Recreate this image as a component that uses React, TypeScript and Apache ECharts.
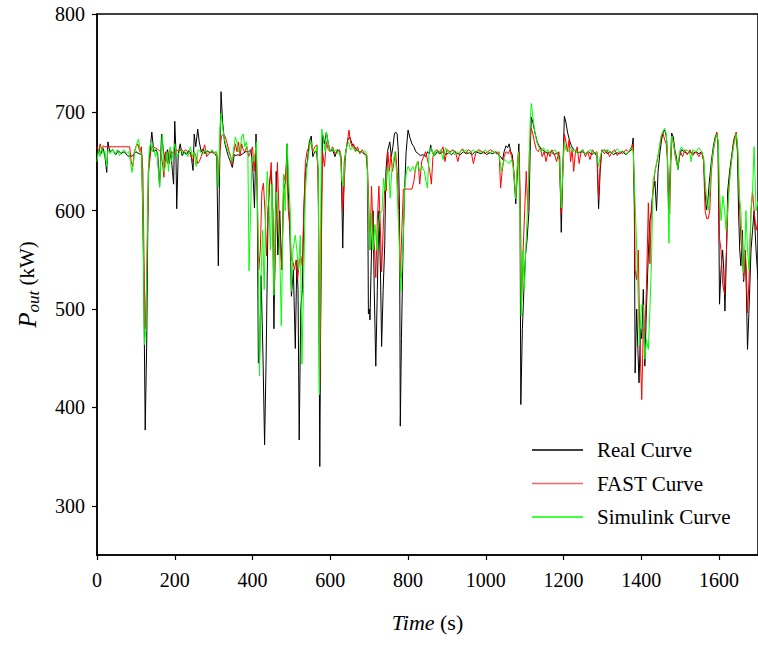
import React, { useEffect, useRef } from "react";
import * as echarts from "echarts";

// Real (measured) output power, [time s, kW]
const realCurve: [number, number][] = [
  [0,655],[5,662],[10,658],[15,664],[20,657],[25,639],[28,670],[33,660],[40,662],[48,657],[55,661],[62,658],[70,660],[78,656],[85,655],[92,656],[100,660],[108,658],[115,657],[120,540],[124,377],[128,470],[132,640],[138,668],[141,680],[146,660],[152,662],[156,658],[161,624],[166,678],[171,660],[176,650],[181,662],[186,648],[190,660],[194,640],[197,627],[200,691],[203,660],[205,602],[209,658],[214,668],[219,656],[224,660],[230,657],[236,661],[241,659],[244,650],[247,641],[250,678],[254,665],[259,683],[263,670],[268,660],[273,663],[278,658],[283,661],[290,659],[297,660],[303,658],[308,655],[312,544],[316,660],[319,721],[323,690],[328,670],[333,662],[338,655],[343,650],[348,644],[353,657],[358,656],[362,657],[368,656],[375,658],[382,660],[390,660],[396,662],[401,640],[405,603],[409,678],[412,620],[415,445],[418,447],[422,534],[427,450],[431,362],[435,450],[440,600],[444,630],[448,640],[452,600],[455,480],[458,560],[461,640],[465,555],[470,600],[475,540],[480,620],[485,630],[489,668],[492,620],[496,580],[500,513],[505,540],[510,460],[514,550],[517,520],[520,367],[524,500],[528,520],[532,600],[536,640],[541,650],[546,670],[551,676],[555,655],[560,660],[565,660],[569,640],[573,340],[577,600],[580,678],[585,668],[590,680],[595,668],[600,660],[606,662],[612,655],[618,662],[624,660],[628,650],[632,562],[636,650],[640,660],[645,672],[650,675],[656,668],[662,665],[668,662],[674,660],[680,660],[686,658],[692,657],[696,640],[698,495],[701,500],[702,489],[706,560],[710,600],[713,520],[717,442],[721,520],[725,600],[729,540],[732,462],[736,520],[740,565],[743,640],[747,660],[750,665],[753,670],[757,655],[761,665],[765,678],[768,680],[772,678],[775,660],[778,600],[780,381],[783,470],[787,560],[791,620],[795,660],[800,682],[805,674],[810,668],[815,665],[820,660],[826,658],[832,656],[838,657],[845,655],[850,660],[855,658],[858,667],[862,660],[868,656],[875,660],[882,658],[890,660],[898,657],[905,659],[912,657],[920,660],[928,658],[935,657],[942,660],[950,658],[958,659],[965,657],[972,660],[980,659],[988,658],[995,660],[1002,657],[1010,659],[1018,658],[1025,660],[1032,657],[1038,655],[1043,652],[1047,660],[1052,666],[1056,664],[1060,668],[1064,660],[1068,657],[1072,640],[1077,607],[1081,640],[1085,668],[1088,600],[1090,403],[1094,480],[1098,520],[1102,555],[1106,570],[1111,600],[1114,660],[1117,695],[1121,690],[1126,680],[1132,670],[1138,665],[1145,662],[1152,660],[1160,658],[1168,660],[1176,657],[1184,659],[1190,655],[1194,578],[1198,640],[1202,696],[1206,690],[1210,680],[1215,672],[1220,666],[1226,662],[1232,660],[1240,659],[1248,660],[1256,658],[1264,660],[1272,657],[1280,659],[1286,655],[1290,602],[1294,640],[1298,660],[1305,662],[1312,658],[1320,660],[1328,657],[1336,659],[1344,658],[1352,660],[1360,657],[1368,660],[1375,662],[1379,674],[1382,600],[1384,435],[1388,500],[1391,460],[1394,425],[1398,480],[1401,470],[1405,520],[1409,442],[1413,500],[1418,557],[1422,590],[1426,600],[1430,620],[1435,630],[1439,600],[1443,640],[1448,660],[1452,672],[1456,680],[1460,682],[1464,676],[1467,660],[1470,601],[1474,640],[1478,679],[1482,675],[1486,662],[1490,655],[1494,642],[1498,655],[1503,662],[1510,660],[1518,658],[1525,660],[1532,658],[1540,660],[1548,658],[1555,660],[1560,652],[1564,620],[1567,601],[1571,610],[1575,630],[1580,650],[1585,665],[1590,675],[1594,679],[1597,670],[1599,600],[1601,505],[1605,540],[1609,560],[1612,540],[1615,498],[1619,560],[1622,620],[1627,640],[1632,655],[1637,670],[1641,676],[1644,678],[1647,660],[1650,600],[1653,560],[1656,544],[1660,580],[1663,528],[1667,560],[1670,520],[1673,459],[1677,500],[1682,560],[1686,580],[1690,600],[1695,560],[1700,530]
];

// FAST simulated output power, [time s, kW]
const fastCurve: [number, number][] = [
  [0,665],[5,660],[8,668],[12,662],[16,666],[20,665],[30,665],[40,665],[50,665],[60,665],[70,665],[80,665],[84,665],[88,650],[92,645],[96,660],[100,665],[105,668],[110,660],[114,665],[118,640],[122,520],[125,480],[129,560],[133,640],[138,660],[142,665],[150,664],[158,662],[163,660],[168,650],[172,634],[176,660],[181,648],[186,662],[192,660],[198,658],[204,662],[210,660],[216,663],[222,660],[228,662],[234,660],[240,658],[246,650],[250,660],[255,655],[259,648],[263,650],[268,655],[272,660],[277,667],[282,655],[288,658],[294,660],[300,658],[306,660],[310,655],[313,634],[316,660],[320,676],[325,678],[330,675],[335,668],[340,660],[344,655],[348,647],[352,660],[356,668],[360,660],[364,670],[368,656],[372,668],[376,662],[380,660],[385,665],[390,655],[395,660],[400,665],[404,640],[408,660],[412,620],[416,540],[420,560],[424,619],[428,628],[432,600],[436,554],[440,600],[444,625],[448,649],[452,600],[456,520],[460,580],[464,649],[468,600],[472,560],[476,540],[480,637],[484,630],[488,650],[492,600],[496,584],[500,550],[504,548],[508,540],[512,550],[516,530],[520,548],[524,554],[528,544],[532,600],[536,649],[540,660],[545,665],[550,670],[555,660],[560,665],[566,667],[570,600],[573,424],[577,560],[580,660],[585,645],[590,670],[595,662],[600,660],[606,665],[612,658],[618,660],[624,662],[628,655],[632,600],[636,630],[640,660],[644,670],[648,682],[652,670],[656,665],[660,668],[665,660],[670,665],[676,658],[682,662],[688,658],[694,656],[698,619],[702,560],[706,625],[710,580],[714,560],[717,532],[721,590],[725,625],[729,580],[732,538],[736,580],[740,625],[744,620],[748,660],[752,640],[756,657],[760,640],[764,650],[768,660],[772,640],[776,600],[780,532],[784,580],[788,622],[792,622],[798,622],[804,622],[810,622],[815,630],[820,645],[826,650],[830,627],[835,650],[840,655],[845,660],[850,652],[856,640],[860,627],[864,655],[868,660],[875,662],[882,658],[890,665],[895,650],[900,662],[908,660],[915,662],[922,660],[928,650],[934,660],[940,663],[948,658],[955,662],[962,660],[968,648],[975,660],[982,662],[990,660],[998,658],[1005,660],[1012,662],[1020,660],[1028,658],[1034,660],[1038,623],[1042,640],[1047,655],[1052,660],[1058,658],[1062,662],[1066,655],[1070,650],[1074,625],[1078,615],[1082,650],[1086,660],[1089,600],[1092,508],[1096,560],[1100,600],[1104,640],[1108,600],[1112,660],[1116,684],[1120,680],[1125,670],[1130,662],[1135,660],[1140,665],[1145,655],[1150,660],[1155,650],[1160,660],[1165,655],[1170,662],[1176,658],[1182,650],[1188,660],[1194,597],[1198,640],[1202,678],[1206,670],[1210,660],[1214,672],[1218,650],[1222,662],[1226,640],[1230,658],[1235,665],[1240,648],[1245,660],[1250,662],[1256,655],[1262,660],[1268,652],[1274,662],[1280,658],[1286,660],[1290,612],[1294,645],[1298,662],[1305,658],[1312,662],[1318,655],[1325,660],[1332,662],[1338,656],[1345,660],[1352,658],[1360,662],[1368,660],[1375,665],[1379,668],[1382,620],[1384,539],[1388,530],[1392,560],[1396,470],[1401,408],[1405,480],[1409,476],[1413,520],[1418,608],[1422,546],[1426,605],[1430,620],[1435,640],[1440,650],[1445,660],[1450,672],[1455,680],[1460,672],[1464,668],[1467,650],[1470,610],[1473,597],[1476,650],[1479,675],[1482,670],[1486,658],[1490,650],[1494,645],[1500,660],[1506,655],[1512,662],[1518,657],[1525,662],[1532,656],[1540,660],[1548,655],[1555,660],[1560,650],[1564,600],[1568,592],[1572,592],[1576,600],[1580,640],[1585,660],[1590,672],[1594,680],[1598,665],[1601,572],[1605,560],[1609,526],[1614,515],[1619,560],[1623,610],[1628,640],[1633,655],[1638,672],[1644,680],[1648,660],[1652,610],[1656,570],[1660,555],[1663,530],[1667,560],[1670,540],[1673,496],[1677,530],[1682,600],[1686,620],[1690,600],[1695,580],[1700,590]
];

// Simulink simulated output power, [time s, kW]
const simulinkCurve: [number, number][] = [
  [0,650],[4,662],[8,655],[12,665],[16,658],[20,660],[25,645],[28,662],[34,658],[40,663],[46,657],[52,662],[58,656],[64,660],[70,662],[76,658],[82,660],[86,650],[90,639],[94,650],[98,662],[102,668],[107,673],[111,660],[115,655],[118,600],[122,464],[126,480],[130,600],[134,660],[138,670],[142,660],[146,665],[150,655],[154,660],[158,640],[161,624],[165,660],[168,678],[172,640],[176,645],[180,660],[184,640],[188,665],[192,650],[196,660],[200,668],[205,655],[210,658],[216,662],[222,657],[228,660],[234,655],[240,665],[246,655],[250,660],[255,645],[260,662],[266,660],[272,657],[278,662],[284,658],[290,660],[296,662],[302,658],[308,660],[312,624],[316,680],[319,699],[323,685],[328,672],[333,665],[338,660],[343,655],[348,650],[352,665],[356,675],[360,670],[364,660],[368,662],[372,675],[376,678],[380,665],[384,670],[388,660],[391,539],[395,600],[399,655],[403,650],[407,660],[410,670],[414,580],[418,432],[422,534],[426,580],[430,520],[434,600],[438,640],[442,611],[446,560],[450,627],[455,514],[458,580],[461,619],[465,600],[470,560],[474,483],[480,637],[484,600],[489,668],[493,630],[497,600],[500,518],[504,560],[510,575],[514,560],[518,540],[523,575],[527,444],[531,520],[536,620],[540,644],[545,660],[549,672],[553,666],[557,661],[562,660],[566,666],[569,640],[572,413],[576,620],[578,683],[583,670],[587,660],[590,680],[595,668],[600,660],[605,664],[610,660],[615,662],[620,658],[625,660],[630,630],[634,625],[638,655],[642,665],[647,670],[652,662],[658,665],[664,660],[670,662],[676,660],[682,659],[688,661],[694,658],[698,603],[702,560],[706,597],[710,560],[715,586],[720,560],[724,586],[728,597],[733,600],[737,633],[741,620],[746,640],[750,645],[754,613],[758,640],[762,650],[766,660],[770,640],[774,600],[778,560],[781,518],[784,540],[787,564],[791,621],[796,640],[800,645],[806,640],[812,645],[818,640],[824,650],[830,640],[836,645],[842,640],[846,630],[850,623],[854,660],[860,664],[866,655],[872,662],[878,658],[884,662],[890,652],[896,664],[902,660],[908,658],[914,662],[920,657],[926,660],[932,658],[938,662],[944,660],[950,662],[956,658],[962,660],[968,662],[974,659],[980,661],[986,660],[992,658],[998,662],[1004,660],[1010,658],[1016,661],[1022,659],[1028,660],[1034,658],[1040,640],[1044,648],[1048,652],[1054,650],[1060,648],[1066,652],[1070,645],[1074,630],[1077,612],[1080,640],[1084,660],[1088,600],[1091,493],[1095,560],[1099,520],[1103,563],[1107,600],[1111,640],[1114,690],[1117,709],[1121,695],[1126,680],[1131,670],[1136,665],[1142,660],[1148,664],[1154,660],[1160,662],[1166,658],[1172,660],[1178,662],[1184,658],[1190,650],[1194,603],[1198,640],[1202,670],[1206,662],[1212,660],[1218,665],[1224,660],[1230,662],[1236,658],[1242,660],[1248,662],[1255,658],[1262,660],[1270,662],[1278,658],[1284,660],[1290,645],[1294,655],[1300,662],[1308,660],[1315,662],[1322,658],[1330,660],[1338,663],[1345,659],[1352,661],[1360,658],[1368,660],[1375,664],[1379,660],[1384,607],[1390,541],[1395,463],[1400,504],[1405,504],[1409,449],[1413,469],[1418,459],[1422,500],[1426,546],[1430,630],[1435,640],[1440,650],[1445,660],[1450,675],[1455,680],[1460,684],[1464,678],[1467,660],[1471,567],[1474,640],[1478,676],[1482,670],[1486,660],[1490,650],[1494,642],[1498,660],[1503,665],[1510,660],[1518,662],[1525,658],[1528,650],[1532,662],[1540,660],[1548,664],[1555,660],[1560,655],[1564,630],[1568,610],[1572,600],[1576,620],[1580,645],[1585,662],[1590,672],[1594,678],[1598,670],[1601,620],[1605,590],[1610,615],[1614,600],[1618,580],[1622,600],[1627,630],[1632,650],[1637,665],[1641,672],[1644,678],[1648,665],[1652,615],[1656,600],[1660,557],[1663,537],[1667,570],[1669,600],[1673,560],[1677,540],[1682,600],[1686,620],[1690,665],[1695,600],[1700,610]
];

const seriesNames = ["Real Curve", "FAST Curve", "Simulink Curve"];
const seriesColors = ["#000000", "#ff0000", "#00ff00"];
const legendColors = ["#000000", "#f06868", "#00ff00"];
const xTickValues = [0, 200, 400, 600, 800, 1000, 1200, 1400, 1600];
const yTickValues = [300, 400, 500, 600, 700, 800];

const FONT = '"Liberation Serif", "Times New Roman", serif';

export default function App() {
  const ref = useRef<HTMLDivElement>(null);
  useEffect(() => {
    if (!ref.current) return;
    const chart = echarts.init(ref.current, undefined, { renderer: "svg" });
    const datasets = [realCurve, fastCurve, simulinkCurve];
    chart.setOption({
      animation: false,
      backgroundColor: "#ffffff",
      textStyle: { fontFamily: FONT, color: "#000" },
      grid: {
        left: 97, top: 14, right: -4, bottom: 94,
        show: true, borderColor: "#000", borderWidth: 1.5,
      },
      legend: {
        data: seriesNames.map((n, i) => ({
          name: n,
          icon: "rect",
          itemStyle: { color: legendColors[i], borderWidth: 0 },
        })),
        orient: "vertical",
        left: 527, top: 434,
        itemWidth: 51, itemHeight: 1.4, itemGap: 11.5,
        textStyle: { fontFamily: FONT, fontSize: 21, color: "#000", padding: [0, 0, 0, 9], lineHeight: 22 },
      },
      xAxis: {
        type: "value", min: 0, max: 1700, interval: 100,
        axisLine: { show: true, lineStyle: { color: "#000", width: 1.5 } },
        axisTick: { show: true, length: 5, customValues: xTickValues, lineStyle: { color: "#000", width: 1.2 } },
        axisLabel: {
          customValues: xTickValues, fontFamily: FONT, fontSize: 20, color: "#000", margin: 15,
          formatter: (v: number) => String(v),
        },
        splitLine: { show: false },
        name: "{i|Time} (s)",
        nameLocation: "middle",
        nameGap: 56,
        nameTextStyle: {
          fontFamily: FONT, fontSize: 22, color: "#000",
          rich: { i: { fontFamily: FONT, fontSize: 22, fontStyle: "italic", color: "#000" } },
        },
      },
      yAxis: {
        type: "value", min: 250, max: 800, interval: 50,
        axisLine: { show: true, lineStyle: { color: "#000", width: 1.5 } },
        axisTick: { show: true, length: 5, customValues: yTickValues, lineStyle: { color: "#000", width: 1.2 } },
        axisLabel: {
          customValues: yTickValues, fontFamily: FONT, fontSize: 20, color: "#000", margin: 12,
          formatter: (v: number) => String(v),
        },
        splitLine: { show: false },
        name: "{i|P}{s|out} (kW)",
        nameLocation: "middle",
        nameRotate: 90,
        nameGap: 55,
        nameTextStyle: {
          fontFamily: FONT, fontSize: 21, color: "#000", lineHeight: 30,
          rich: {
            i: { fontFamily: FONT, fontSize: 25, fontStyle: "italic", color: "#000", lineHeight: 30 },
            s: { fontFamily: FONT, fontSize: 17, fontStyle: "italic", color: "#000", lineHeight: 17, verticalAlign: "bottom" },
          },
        },
      },
      series: datasets.map((d, i) => ({
        name: seriesNames[i],
        type: "line",
        data: d,
        symbol: "none",
        color: seriesColors[i],
        lineStyle: { color: seriesColors[i], width: 1 },
        z: 2 + i,
      })),
    });
    return () => chart.dispose();
  }, []);
  return (
    <div
      ref={ref}
      style={{ position: "absolute", left: 0, top: 0, width: 758, height: 649 }}
    />
  );
}
